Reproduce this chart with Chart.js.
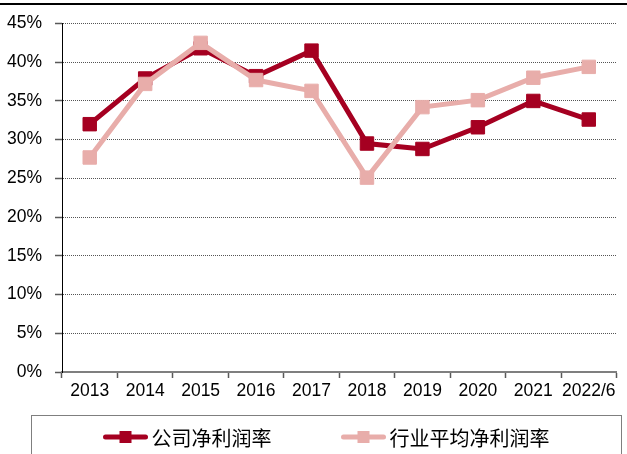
<!DOCTYPE html>
<html>
<head>
<meta charset="utf-8">
<script src="https://cdn.jsdelivr.net/npm/chart.js@4"></script>
<style>
  html, body { margin: 0; padding: 0; background: #fff; }
  canvas { display: block; }
</style>
</head>
<body>
<canvas id="chartMargen" width="627" height="454"></canvas>
<script>
// =======================
//  DATOS
// =======================
const years = ["2013", "2014", "2015", "2016", "2017", "2018", "2019", "2020", "2021", "2022/6"];
const companyMargin = [32.0, 37.9, 41.8, 38.2, 41.5, 29.5, 28.8, 31.6, 35.0, 32.6];
const industryMargin = [27.7, 37.2, 42.5, 37.7, 36.3, 25.1, 34.2, 35.1, 38.0, 39.4];
const seriesNames = ["公司净利润率", "行业平均净利润率"];
const yMax = 45;
const yStep = 5;

const DARK = "#a50021";
const PINK = "#e8adaa";
const tickFont = { family: "'Liberation Sans', Arial, sans-serif", size: 17.5 };
const legendFont = "20px 'Noto Sans CJK SC', sans-serif";

// ==============================
//  PLUGIN: linea superior + leyenda
// ==============================
const frame = {
  id: "frame",
  beforeDraw(chart) {
    const ctx = chart.ctx;
    ctx.save();
    ctx.fillStyle = "#fff";
    ctx.fillRect(0, 0, chart.width, chart.height);
    ctx.fillStyle = "#000";
    ctx.fillRect(0, 3, chart.width, 2);
    ctx.restore();
  },
  afterDraw(chart) {
    const ctx = chart.ctx;
    const box = { left: 31.5, top: 415.5, right: 621.5 };
    ctx.save();
    ctx.strokeStyle = "#7f7f7f";
    ctx.lineWidth = 1;
    ctx.strokeRect(box.left, box.top, box.right - box.left, 60);

    ctx.font = legendFont;
    ctx.textBaseline = "middle";
    const symW = 44, symGap = 4, itemGap = 70;
    const ds = chart.data.datasets.slice().sort((a, b) => a.legendIndex - b.legendIndex);
    const widths = ds.map(d => symW + symGap + ctx.measureText(d.label).width);
    const total = widths.reduce((a, b) => a + b, 0) + itemGap * (ds.length - 1);
    let x = (box.left + box.right) / 2 - total / 2;
    const y = 437;
    ds.forEach((d, i) => {
      ctx.strokeStyle = d.borderColor;
      ctx.lineWidth = 5;
      ctx.lineCap = "round";
      ctx.beginPath();
      ctx.moveTo(x + 2, y);
      ctx.lineTo(x + symW - 2, y);
      ctx.stroke();
      ctx.fillStyle = d.pointBackgroundColor;
      ctx.fillRect(x + symW / 2 - 6, y - 6, 12, 12);
      ctx.fillStyle = "#000";
      ctx.fillText(d.label, x + symW + symGap, y + 1);
      x += widths[i] + itemGap;
    });
    ctx.restore();
  }
};

// ==============================
//  GRAFICO
// ==============================
const ctxMargen = document.getElementById("chartMargen").getContext("2d");
new Chart(ctxMargen, {
  type: "line",
  data: {
    labels: years,
    datasets: [
      {
        label: seriesNames[0],
        legendIndex: 0,
        order: 1,
        data: companyMargin,
        borderColor: DARK,
        backgroundColor: DARK,
        pointBackgroundColor: DARK,
        pointBorderColor: DARK,
        borderWidth: 5,
        pointStyle: "rect",
        pointRadius: 9.5,
        pointBorderWidth: 1,
        tension: 0
      },
      {
        label: seriesNames[1],
        legendIndex: 1,
        order: 0,
        data: industryMargin,
        borderColor: PINK,
        backgroundColor: PINK,
        pointBackgroundColor: PINK,
        pointBorderColor: PINK,
        borderWidth: 5,
        pointStyle: "rect",
        pointRadius: 9.5,
        pointBorderWidth: 1,
        tension: 0
      }
    ]
  },
  options: {
    responsive: false,
    devicePixelRatio: 1,
    animation: false,
    layout: { padding: { top: 22, left: 0, right: 0, bottom: 42 } },
    plugins: {
      legend: { display: false },
      tooltip: { enabled: false }
    },
    scales: {
      x: {
        offset: true,
        afterFit: (scale) => { scale.height = 40; },
        grid: {
          offset: true,
          drawOnChartArea: false,
          drawTicks: true,
          tickLength: 6,
          tickColor: "#595959",
          tickWidth: 1.5
        },
        border: { color: "#7f7f7f", width: 2 },
        ticks: { color: "#000", font: tickFont, padding: 3, maxRotation: 0, autoSkip: false }
      },
      y: {
        min: 0,
        max: yMax,
        afterFit: (scale) => { scale.width = 62; },
        grid: {
          color: "#555",
          lineWidth: 1,
          tickLength: 7,
          tickColor: "#595959",
          tickWidth: 1.5,
          tickBorderDash: []
        },
        border: { color: "#000", width: 1, dash: [1, 1] },
        ticks: {
          stepSize: yStep,
          color: "#000",
          font: tickFont,
          padding: 13,
          callback: (v) => v + "%"
        }
      }
    }
  },
  plugins: [frame]
});
</script>
</body>
</html>
